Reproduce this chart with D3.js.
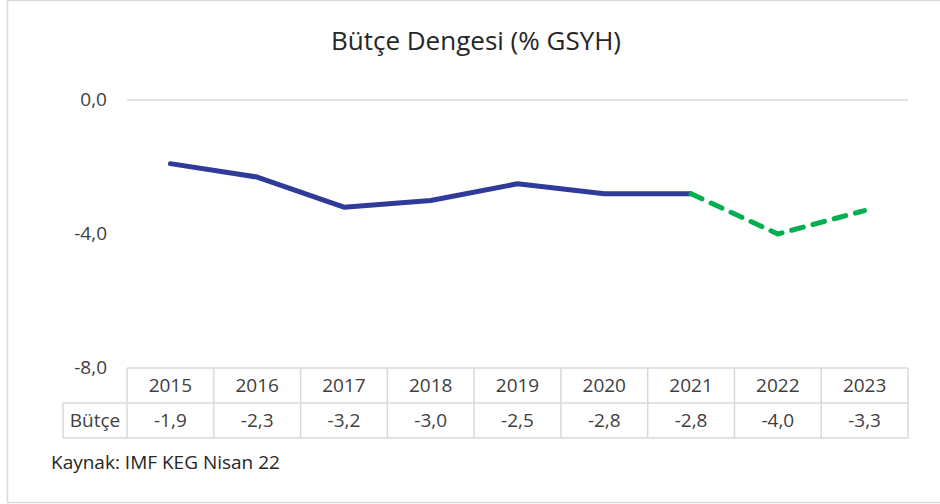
<!DOCTYPE html>
<html>
<head>
<meta charset="utf-8">
<script src="https://cdn.jsdelivr.net/npm/d3@7"></script>
<style>
  body { margin: 0; background: #fff; }
  svg { display: block; font-family: "Open Sans", sans-serif; }
</style>
</head>
<body>
<div id="chart"></div>
<script>
// data
const years = ["2015", "2016", "2017", "2018", "2019", "2020", "2021", "2022", "2023"];
const butce = [-1.9, -2.3, -3.2, -3.0, -2.5, -2.8, -2.8, -4.0, -3.3];
const yTicks = [0, -4, -8];
const seriesName = "Bütçe";
const lastActual = "2021";

const width = 940, height = 504;
const plot = { left: 127, right: 908, top: 100, bottom: 368 };
const rowH = 35;
const fs = "19px";

const svg = d3.select("#chart").append("svg")
  .attr("width", width)
  .attr("height", height);

// outer frame
svg.append("rect")
  .attr("x", 7.5).attr("y", 0.5)
  .attr("width", 945).attr("height", 502)
  .attr("fill", "#fff")
  .attr("stroke", "#d9d9d9")
  .attr("stroke-width", 1.5);

svg.append("text")
  .attr("x", 476).attr("y", 50)
  .attr("text-anchor", "middle")
  .attr("font-size", "26px")
  .attr("fill", "#262626")
  .text("Bütçe Dengesi (% GSYH)");

const x = d3.scaleBand().domain(years).range([plot.left, plot.right]);
const y = d3.scaleLinear().domain([-8, 0]).range([plot.bottom, plot.top]);

// y axis labels + zero gridline
const fmt = v => d3.format(".1f")(v).replace(".", ",").replace("−", "-");
svg.append("g").selectAll("text")
  .data(yTicks)
  .join("text")
  .attr("x", 107)
  .attr("y", d => y(d) + 6)
  .attr("text-anchor", "end")
  .attr("font-size", fs)
  .attr("fill", "#404040")
  .text(fmt);

svg.append("line")
  .attr("x1", plot.left).attr("x2", plot.right)
  .attr("y1", y(0)).attr("y2", y(0))
  .attr("stroke", "#d9d9d9")
  .attr("stroke-width", 1.5);

// line: actual vs projection
const pts = years.map((yr, i) => ({ yr, v: butce[i] }));
const cut = years.indexOf(lastActual);
const line = d3.line()
  .x(d => x(d.yr) + x.bandwidth() / 2)
  .y(d => y(d.v));

svg.append("path")
  .datum(pts.slice(0, cut + 1))
  .attr("d", line)
  .attr("fill", "none")
  .attr("stroke", "#2e3b98")
  .attr("stroke-width", 5)
  .attr("stroke-linejoin", "round")
  .attr("stroke-linecap", "round");

svg.append("path")
  .datum(pts.slice(cut))
  .attr("d", line)
  .attr("fill", "none")
  .attr("stroke", "#00b050")
  .attr("stroke-width", 5)
  .attr("stroke-dasharray", "12,10")
  .attr("stroke-linejoin", "round")
  .attr("stroke-linecap", "round");

// data table
const tbl = svg.append("g");
const gridCol = "#d9d9d9";
const labelLeft = 63;

tbl.append("line")
  .attr("x1", plot.left).attr("x2", plot.right)
  .attr("y1", plot.bottom).attr("y2", plot.bottom)
  .attr("stroke", gridCol).attr("stroke-width", 1.5);
[plot.bottom + rowH, plot.bottom + rowH * 2].forEach(yy => {
  tbl.append("line")
    .attr("x1", labelLeft).attr("x2", plot.right)
    .attr("y1", yy).attr("y2", yy)
    .attr("stroke", gridCol).attr("stroke-width", 1.5);
});
const vx = years.map(d => x(d)).concat([plot.right]);
tbl.selectAll("line.v")
  .data(vx)
  .join("line")
  .attr("class", "v")
  .attr("x1", d => d).attr("x2", d => d)
  .attr("y1", plot.bottom).attr("y2", plot.bottom + rowH * 2)
  .attr("stroke", gridCol).attr("stroke-width", 1.5);
tbl.append("line")
  .attr("x1", labelLeft).attr("x2", labelLeft)
  .attr("y1", plot.bottom + rowH).attr("y2", plot.bottom + rowH * 2)
  .attr("stroke", gridCol).attr("stroke-width", 1.5);

tbl.selectAll("text.yr")
  .data(years)
  .join("text")
  .attr("class", "yr")
  .attr("x", d => x(d) + x.bandwidth() / 2)
  .attr("y", plot.bottom + 24)
  .attr("text-anchor", "middle")
  .attr("font-size", fs)
  .attr("fill", "#404040")
  .text(d => d);

tbl.selectAll("text.val")
  .data(pts)
  .join("text")
  .attr("class", "val")
  .attr("x", d => x(d.yr) + x.bandwidth() / 2)
  .attr("y", plot.bottom + rowH + 24)
  .attr("text-anchor", "middle")
  .attr("font-size", fs)
  .attr("fill", "#404040")
  .text(d => fmt(d.v));

tbl.append("text")
  .attr("x", (labelLeft + plot.left) / 2)
  .attr("y", plot.bottom + rowH + 24)
  .attr("text-anchor", "middle")
  .attr("font-size", fs)
  .attr("fill", "#404040")
  .text(seriesName);

svg.append("text")
  .attr("x", 51).attr("y", 469)
  .attr("font-size", fs)
  .attr("fill", "#262626")
  .text("Kaynak: IMF KEG Nisan 22");
</script>
</body>
</html>
